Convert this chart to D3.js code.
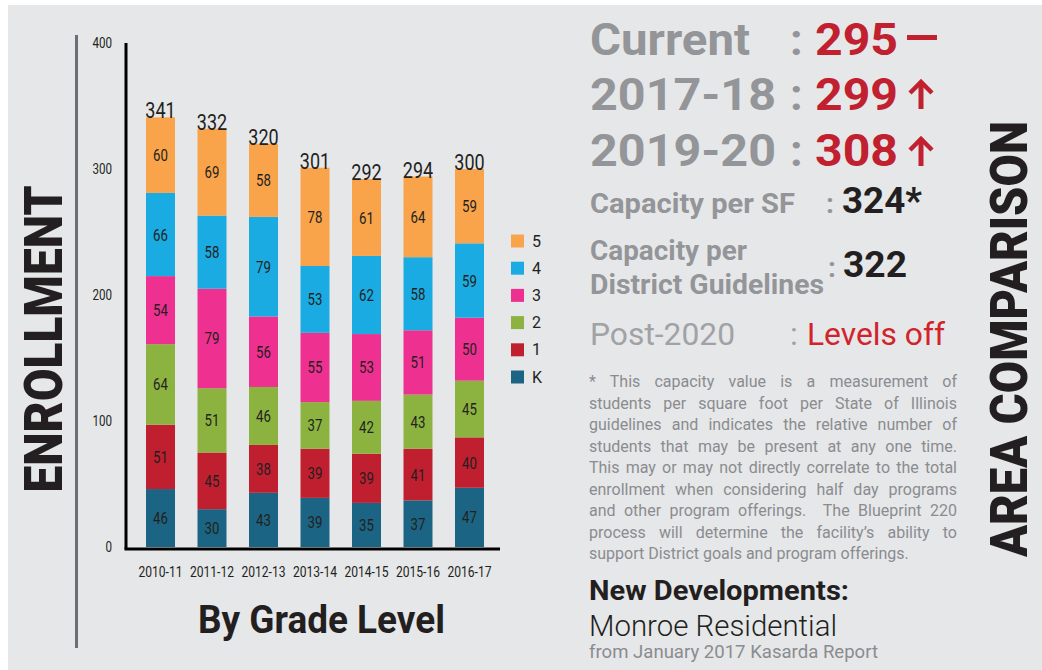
<!DOCTYPE html>
<html><head><meta charset="utf-8">
<script src="https://cdn.jsdelivr.net/npm/d3@7/dist/d3.min.js"></script>
<style>
html,body{margin:0;padding:0;background:#fff;}
svg{display:block;font-family:Roboto,"Noto Sans",sans-serif;}
</style></head><body>
<svg id="c" width="1042" height="670"></svg>
<script>
const years = ["2010-11","2011-12","2012-13","2013-14","2014-15","2015-16","2016-17"];
const grades = ["K","1","2","3","4","5"];
const gradeK = [46,30,43,39,35,37,47];
const grade1 = [51,45,38,39,39,41,40];
const grade2 = [64,51,46,37,42,43,45];
const grade3 = [54,79,56,55,53,51,50];
const grade4 = [66,58,79,53,62,58,59];
const grade5 = [60,69,58,78,61,64,59];
const totals = [341,332,320,301,292,294,300];
const yTicks = [0,100,200,300,400];
const gradeColors = ["#1c6483","#c01f30","#8cb33f","#ee3190","#1aabe2","#f9a44a"];

const footLines = [
 "* This capacity value is a measurement of",
 "students per square foot per State of Illinois",
 "guidelines and indicates the relative number of",
 "students that may be present at any one time.",
 "This may or may not directly correlate to the total",
 "enrollment when considering half day programs",
 "and other program offerings.  The Blueprint 220",
 "process will determine the facility\u2019s ability to",
 "support District goals and program offerings."
];

const svg = d3.select("#c");
svg.append("rect").attr("x",8).attr("y",5).attr("width",1034).attr("height",665).attr("fill","#e6e7e9");

const series = [gradeK,grade1,grade2,grade3,grade4,grade5];
const table = years.map((yr,i)=>{const o={year:yr}; grades.forEach((g,j)=>o[g]=series[j][i]); return o;});
const stack = d3.stack().keys(grades)(table);

const x = d3.scaleBand().domain(years).range([125,505]).paddingInner(0.437).paddingOuter(0.408);
const y = d3.scaleLinear().domain([0,400]).range([547,43]);
const color = d3.scaleOrdinal().domain(grades).range(gradeColors);

function condText(parent, tx, ty, str, opts){
  const g = parent.append("g").attr("transform",`translate(${tx},${ty}) scale(${opts.sx||0.8},1)`);
  return g.append("text").text(str)
    .attr("font-size",opts.size).attr("text-anchor",opts.anchor||"middle")
    .attr("fill",opts.fill||"#231f20").attr("font-weight",opts.weight||400);
}

// left gray rule
svg.append("line").attr("x1",76.5).attr("x2",76.5).attr("y1",35).attr("y2",648).attr("stroke","#6d6e71").attr("stroke-width",3);

// bars
const layers = svg.append("g").selectAll("g").data(stack).join("g").attr("fill",d=>color(d.key));
layers.selectAll("rect").data(d=>d).join("rect")
  .attr("x",d=>x(d.data.year)).attr("width",x.bandwidth())
  .attr("y",d=>y(d[1])).attr("height",d=>y(d[0])-y(d[1]));

// segment labels
stack.forEach(layer=>{
  layer.forEach(d=>{
    const v = d[1]-d[0];
    condText(svg, x(d.data.year)+x.bandwidth()/2, (y(d[0])+y(d[1]))/2+6, v, {size:16.5});
  });
});
// totals
years.forEach((yr,i)=>{
  condText(svg, x(yr)+x.bandwidth()/2, y(totals[i])+1, totals[i], {size:22.5});
});

// axes
const yAxis = d3.axisLeft(y).tickValues(yTicks).tickSize(0).tickPadding(13);
const ya = svg.append("g").attr("transform","translate(126,0)").call(yAxis);
ya.select(".domain").remove();
ya.selectAll("text").each(function(d){
  d3.select(this).remove();
  condText(svg,112,y(d)+5,d,{size:14.5,anchor:"end",sx:0.8});
});
svg.append("line").attr("x1",126).attr("x2",126).attr("y1",43).attr("y2",549).attr("stroke","#000").attr("stroke-width",3);

const xAxis = d3.axisBottom(x).tickSize(0).tickPadding(0);
const xa = svg.append("g").attr("transform","translate(0,549)").call(xAxis);
xa.select(".domain").remove();
xa.selectAll("text").remove();
years.forEach(yr=>condText(svg,x(yr)+x.bandwidth()/2,577,yr,{size:15.5,sx:0.78}));
svg.append("line").attr("x1",124.5).attr("x2",500).attr("y1",549).attr("y2",549).attr("stroke","#000").attr("stroke-width",3);

// legend
const legend = svg.append("g");
grades.slice().reverse().forEach((g,i)=>{
  const cy = 241 + i*27.2;
  legend.append("rect").attr("x",511).attr("y",cy-6.5).attr("width",13).attr("height",13).attr("fill",color(g));
  legend.append("text").attr("x",532).attr("y",cy+5.5).attr("font-size",16).attr("fill","#231f20").text(g);
});

// titles
svg.append("text").attr("transform","translate(62,339) rotate(-90)").attr("text-anchor","middle")
  .attr("font-size",54).attr("font-weight",900).attr("fill","#231f20")
  .attr("textLength",307).attr("lengthAdjust","spacingAndGlyphs").text("ENROLLMENT");
svg.append("text").attr("x",321.5).attr("y",633).attr("text-anchor","middle")
  .attr("font-size",38).attr("font-weight",700).attr("fill","#231f20")
  .attr("textLength",247).attr("lengthAdjust","spacingAndGlyphs").text("By Grade Level");
svg.append("text").attr("transform","translate(1027,339) rotate(-90)").attr("text-anchor","middle")
  .attr("font-size",52).attr("font-weight",900).attr("fill","#231f20")
  .attr("textLength",436).attr("lengthAdjust","spacingAndGlyphs").text("AREA COMPARISON");

// right panel
const gray="#939598", red="#c1202f", dark="#231f20";
function t(xp,yp,str,size,weight,fill,len){
  const e=svg.append("text").attr("x",xp).attr("y",yp).attr("font-size",size).attr("font-weight",weight).attr("fill",fill).text(str);
  if(len) e.attr("textLength",len).attr("lengthAdjust","spacingAndGlyphs");
  return e;
}
t(590,55,"Current",45,700,gray,160);
t(790,55,":",45,700,gray);
t(815,55,"295",45,700,red,83);
svg.append("rect").attr("x",907).attr("y",35).attr("width",30).attr("height",5).attr("fill",red);
t(590,110,"2017-18",45,700,gray,186);
t(790,110,":",45,700,gray);
t(815,110,"299",45,700,red,83);
t(590,166,"2019-20",45,700,gray,186);
t(790,166,":",45,700,gray);
t(815,166,"308",45,700,red,83);
function arrow(cx,top,bot){
  svg.append("line").attr("x1",cx).attr("x2",cx).attr("y1",top+2).attr("y2",bot).attr("stroke",red).attr("stroke-width",5);
  svg.append("path").attr("d",`M${cx-11},${top+12} L${cx},${top+1} L${cx+11},${top+12}`).attr("fill","none").attr("stroke",red).attr("stroke-width",4.5);
}
arrow(921,81,109);
arrow(921,138,166);

t(590,213,"Capacity per SF",28,700,gray,205);
t(826,213,":",28,700,gray);
t(842,213,"324*",36,700,dark,80);
t(590,260,"Capacity per",28,700,gray,157);
t(590,294,"District Guidelines",28,700,gray,234);
t(828,277,":",28,700,gray);
t(843,277,"322",37,700,dark,64);
t(590,345,"Post-2020",32,400,"#a0a2a5",145);
t(790,345,":",32,400,"#a0a2a5");
t(807,345,"Levels off",32,400,"#d2232a",138);

// footnote, justified
const fx0=589, fx1=957;
footLines.forEach((ln,i)=>{
  const yy = 387 + i*21.5;
  const e = svg.append("text").attr("x",fx0).attr("y",yy).attr("font-size",16).attr("font-weight",400)
    .attr("fill","#8a8c8f").attr("xml:space","preserve").style("white-space","pre").text(ln);
  if(i<footLines.length-1){
    const w = e.node().getComputedTextLength();
    const spaces = (ln.match(/ /g)||[]).length;
    e.attr("word-spacing",(fx1-fx0-w)/spaces);
  }
});

t(589,600,"New Developments:",27,700,dark,260);
t(589,636,"Monroe Residential",29,300,dark,248);
t(589,658,"from January 2017 Kasarda Report",17.5,400,"#8a8c8f",289);
</script></body></html>
